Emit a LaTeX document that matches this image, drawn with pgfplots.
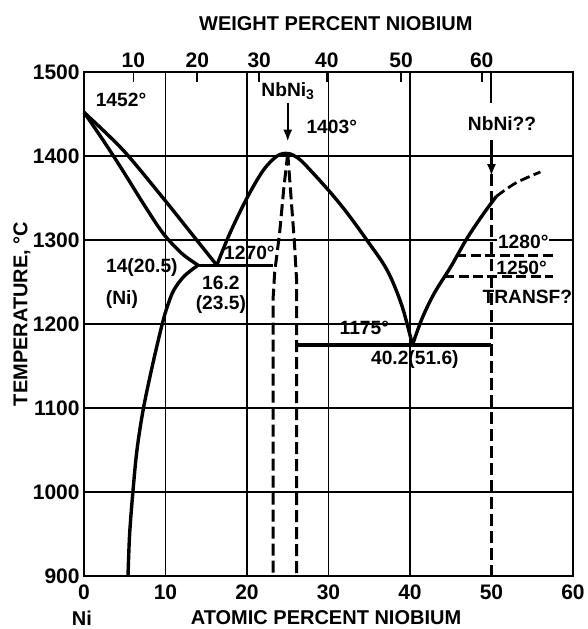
\documentclass[border=0pt]{standalone}
\usepackage{fontspec}
\setmainfont{Liberation Sans}
\usepackage{pgfplots}
\pgfplotsset{compat=1.18}
\usetikzlibrary{arrows.meta}
\begin{document}
\begin{tikzpicture}[x=1pt,y=1pt]
\tikzset{curve/.style={black,line width=1.7pt,line join=round},
  dashln/.style={black,line width=1.5pt,dash pattern=on 6pt off 2.5pt},
  dashh/.style={black,line width=1.4pt,dash pattern=on 5pt off 2.2pt},
  lab/.style={font=\fontsize{9.6}{10}\selectfont\bfseries,inner sep=0.5pt}}
\begin{axis}[
  name=main,
  scale only axis, width=244.5pt, height=252pt,
  xmin=0, xmax=60, ymin=900, ymax=1500,
  xtick={0,10,...,60}, ytick={900,1000,...,1500},
  major tick length=0pt,
  extra x ticks={10,20,30,40}, extra x tick labels={},
  extra x tick style={grid=major},
  ymajorgrids,
  grid style={black,line width=0.9pt},
  axis line style={line width=1pt},
  tick label style={font=\fontsize{10.5}{11}\selectfont\bfseries},
  xticklabel style={inner sep=1pt,yshift=-3pt},
  yticklabel style={inner sep=1pt,xshift=-1pt},
  /pgf/number format/assume math mode=true,
  /pgf/number format/1000 sep={},
  clip=false,
]
% Ni-rich liquidus and solidus
\addplot[curve,smooth,tension=0.5] coordinates {(0,1452)(4.8,1407)(9.7,1350)(13,1310)(16.3,1270)};
\addplot[curve,smooth,tension=0.5] coordinates {(0,1452)(2.4,1418)(4.8,1382)(7.3,1343)(9.7,1308)(12,1284)(14,1270)};
% solvus
\addplot[curve,smooth,tension=0.55] coordinates {(14,1270)(12.3,1257)(11,1240)(10.2,1220)(9.6,1200)(8.5,1155)(7.3,1100)(6.5,1050)(6,1000)(5.6,950)(5.4,900)};
% eutectic 1270
\addplot[curve] coordinates {(14,1270)(23.2,1270)};
% NbNi3 liquidus with congruent maximum
\addplot[curve,smooth,tension=0.55] coordinates {(16.3,1270)(17.9,1308)(20,1350)(22,1383)(23.7,1400)(25,1403)(26.2,1398)(27.4,1387)(30.2,1357)(32.3,1332)(34.7,1300)(37.2,1264)(39,1222)(40.3,1175)};
% right liquidus
\addplot[curve,smooth,tension=0.55] coordinates {(40.3,1175)(41.5,1207)(43,1237)(45,1268)(47,1302)(49,1331)(50.6,1352)};
\addplot[dashh,smooth] coordinates {(50.6,1352)(53,1368)(56,1381)};
% eutectic 1175
\addplot[curve] coordinates {(26.1,1175)(50,1175)};
% transformations
\addplot[dashh] coordinates {(45.7,1282)(58,1282)};
\addplot[dashh] coordinates {(44.2,1257)(57.5,1257)};
% NbNi3 phase boundaries
\addplot[dashln] coordinates {(25,1403)(24.5,1360)(24,1308)(23.4,1262)(23.2,1230)(23.2,900)};
\addplot[dashln] coordinates {(25,1403)(25.8,1300)(26.1,1250)(26.1,900)};
% NbNi line
\addplot[black,line width=1pt] coordinates {(50,1500)(50,1463)};
\addplot[black,line width=1.2pt,-{Latex[length=6pt,width=4.5pt]}] coordinates {(50,1419)(50,1376)};
\addplot[dashln] coordinates {(50,1378)(50,900)};
\addplot[black,line width=1.2pt,-{Latex[length=6pt,width=4.5pt]}] coordinates {(25,1463)(25,1417)};
% labels
\node[lab] at (axis cs:4.54,1466.7) {1452°};
\node[lab] at (axis cs:25.0,1477) {NbNi\raisebox{-0.35ex}{\fontsize{7}{7}\selectfont 3}};
\node[lab] at (axis cs:30.4,1434.5) {1403°};
\node[lab,fill=white] at (axis cs:51.3,1438) {NbNi??};
\node[lab] at (axis cs:7.1,1266.7) {14(20.5)};
\node[lab] at (axis cs:4.66,1228.6) {(Ni)};
\node[lab] at (axis cs:16.8,1249.5) {16.2};
\node[lab] at (axis cs:16.8,1223) {(23.5)};
\node[lab] at (axis cs:20.3,1284.5) {1270°};
\node[lab] at (axis cs:34.4,1195) {1175°};
\node[lab] at (axis cs:40.6,1158) {40.2(51.6)};
\node[lab,fill=white] at (axis cs:53.9,1297.6) {1280°};
\node[lab] at (axis cs:53.7,1266.7) {1250°};
\node[lab] at (axis cs:54.4,1232) {TRANSF?};
\node[font=\fontsize{10}{11}\selectfont\bfseries] at (axis cs:30.9,1558) {WEIGHT PERCENT NIOBIUM};
\node[font=\fontsize{10}{11}\selectfont\bfseries] at (axis cs:29.7,850) {ATOMIC PERCENT NIOBIUM};
\node[font=\fontsize{10}{11}\selectfont\bfseries] at (axis cs:-0.25,850) {Ni};
\node[font=\fontsize{10}{11}\selectfont\bfseries,rotate=90] at (axis cs:-7.6,1212) {TEMPERATURE, °C};
\end{axis}
\begin{axis}[
  scale only axis, width=244.5pt, height=252pt,
  xmin=0, xmax=60, ymin=900, ymax=1500,
  axis x line*=top, axis y line=none,
  xtick={6.05,13.9,21.5,29.8,38.9,48.8},
  xticklabels={10,20,30,40,50,60},
  tick align=inside, major tick length=5pt,
  tick style={black,line width=0.8pt},
  axis line style={line width=1pt},
  tick label style={font=\fontsize{10.5}{11}\selectfont\bfseries},
  xticklabel style={inner sep=1pt,yshift=1pt},
  /pgf/number format/assume math mode=true,
]
\end{axis}
\pgfresetboundingbox
\path[use as bounding box] (-42pt,-26.5pt) rectangle (252pt,288pt);
\end{tikzpicture}
\end{document}
